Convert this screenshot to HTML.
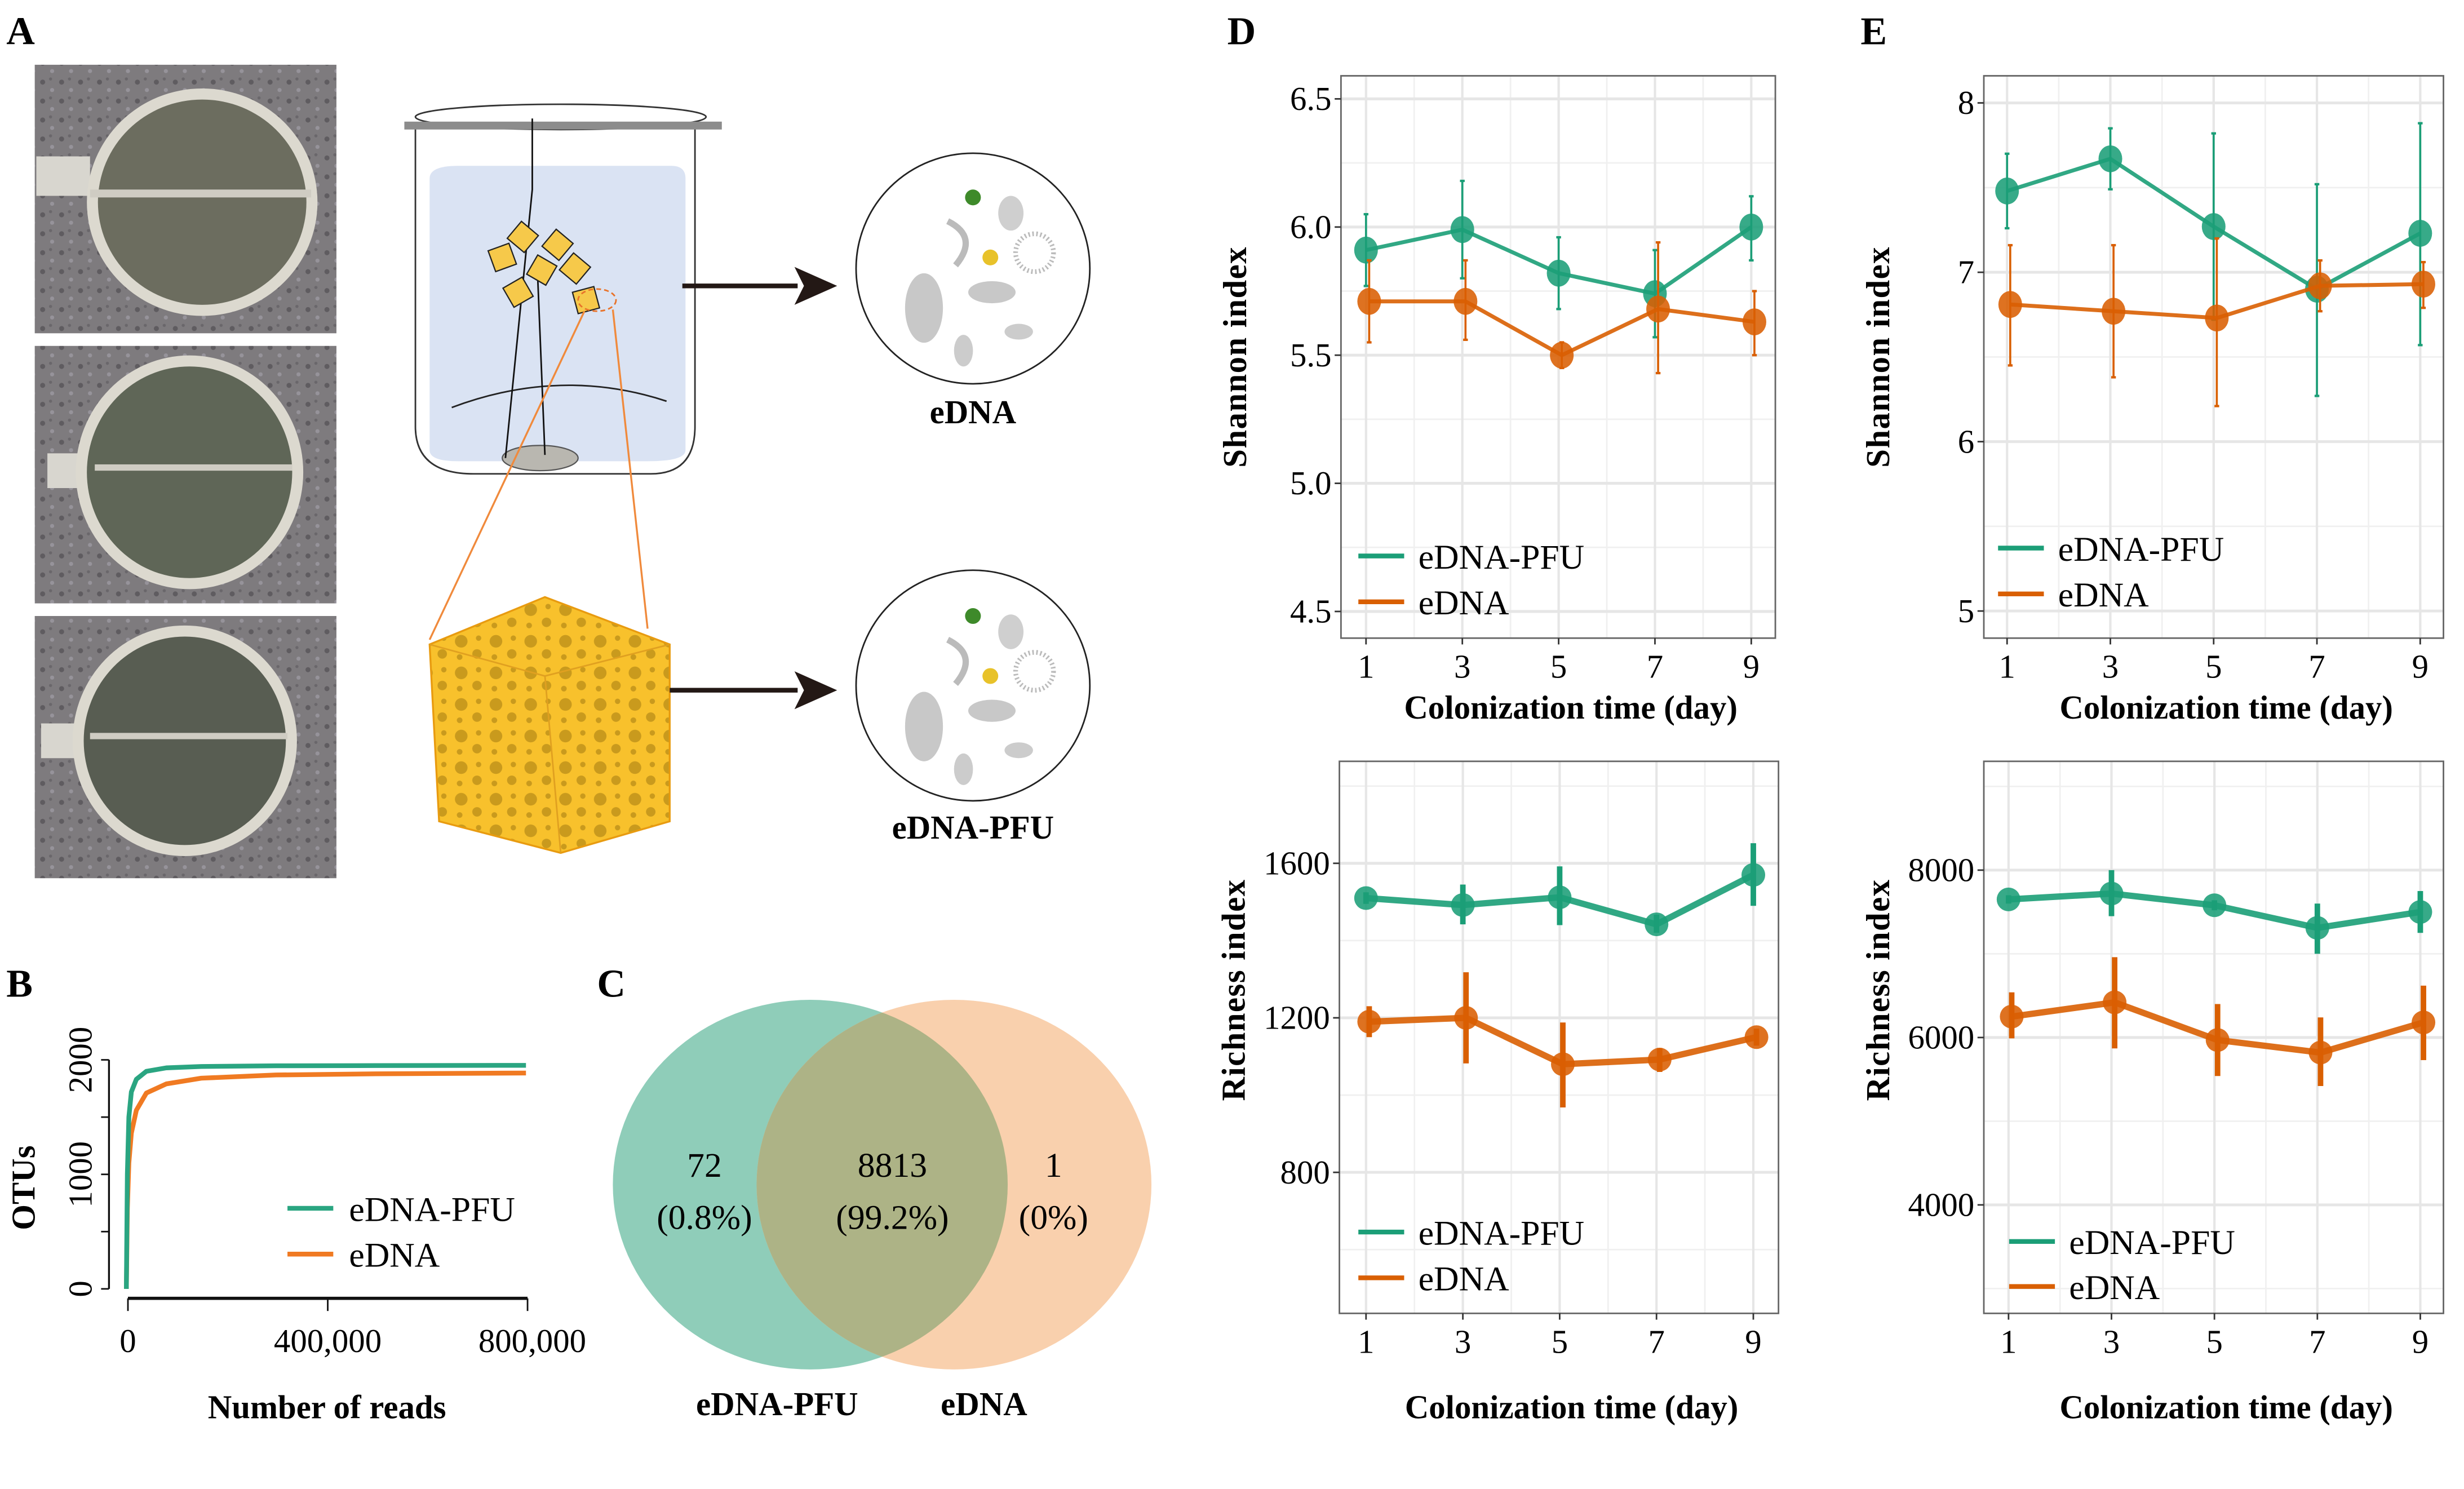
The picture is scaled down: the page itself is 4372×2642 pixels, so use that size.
<!DOCTYPE html>
<html><head><meta charset="utf-8">
<style>
html,body{margin:0;padding:0;background:#fff;}
svg{display:block;}
text{font-family:"Liberation Serif",serif;}
</style></head>
<body>
<svg id="fig" width="4372" height="2642" viewBox="0 0 1560 942.7" preserveAspectRatio="none" xmlns="http://www.w3.org/2000/svg">
<defs>
<clipPath id="clipPfu"><ellipse cx="513" cy="750" rx="125" ry="117"/></clipPath>
<pattern id="speck" width="12" height="12" patternUnits="userSpaceOnUse">
<rect width="12" height="12" fill="#7e7b7e"/><circle cx="3" cy="4" r="1.6" fill="#5f5c60"/><circle cx="9" cy="9" r="1.3" fill="#96939a"/><circle cx="8" cy="2" r="1" fill="#6a676b"/>
</pattern>
<pattern id="holes" width="22" height="20" patternUnits="userSpaceOnUse">
<rect width="22" height="20" fill="#f8c12c"/><circle cx="6" cy="6" r="4" fill="#c99a1d"/><circle cx="16" cy="14" r="3" fill="#c99a1d"/><circle cx="17" cy="4" r="1.7" fill="#c99a1d"/><circle cx="5" cy="16" r="1.8" fill="#c99a1d"/>
</pattern>
</defs>

<!-- Panel letters -->
<text x="4" y="28" font-size="25" font-weight="bold">A</text>
<text x="4" y="631" font-size="25" font-weight="bold">B</text>
<text x="378" y="631" font-size="25" font-weight="bold">C</text>
<text x="777" y="28" font-size="25" font-weight="bold">D</text>
<text x="1178" y="28" font-size="25" font-weight="bold">E</text>

<!-- Panel A -->
<g>
<g>
<rect x="22" y="41" width="191" height="170" fill="url(#speck)"/>
<rect x="23" y="99" width="34" height="25" fill="#d8d6cf"/>
<ellipse cx="128" cy="128" rx="73" ry="72" fill="#dcd9cf"/><ellipse cx="128" cy="128" rx="66" ry="65" fill="#6c6d5f"/>
<rect x="57" y="120" width="140" height="5" fill="#cfccc3"/>
</g>
<g>
<rect x="22" y="219" width="191" height="163" fill="url(#speck)"/>
<rect x="30" y="287" width="30" height="22" fill="#d8d6cf"/>
<ellipse cx="120" cy="299" rx="72" ry="74" fill="#dcd9cf"/><ellipse cx="120" cy="299" rx="65" ry="67" fill="#5f6657"/>
<rect x="60" y="294" width="125" height="4" fill="#cfccc3"/>
</g>
<g>
<rect x="22" y="390" width="191" height="166" fill="url(#speck)"/>
<rect x="26" y="458" width="32" height="22" fill="#d8d6cf"/>
<ellipse cx="117" cy="469" rx="71" ry="73" fill="#dcd9cf"/><ellipse cx="117" cy="469" rx="64" ry="66" fill="#585d52"/>
<rect x="57" y="464" width="125" height="4" fill="#cfccc3"/>
</g>
</g>
<g>
<path d="M263,80 L263,270 Q263,300 300,300 L412,300 Q440,300 440,270 L440,80" fill="#fff" stroke="#333" stroke-width="1"/>
<path d="M272,113 Q272,105 290,105 L425,105 Q434,105 434,113 L434,285 Q434,292 410,292 L290,292 Q272,292 272,285Z" fill="#dae3f3"/>
<ellipse cx="355" cy="74" rx="92" ry="8" fill="none" stroke="#333" stroke-width="1"/>
<rect x="256" y="77" width="201" height="5" fill="#8c8c8c"/>
<path d="M286,258 Q355,232 422,254" fill="none" stroke="#222" stroke-width="1"/>
<ellipse cx="342" cy="290" rx="24" ry="8" fill="#b9b7b0" stroke="#555" stroke-width=".8"/>
<path d="M337,75 L337,120 L320,290 M340,165 L345,288" fill="none" stroke="#111" stroke-width="1"/>
<g fill="#f6c94a" stroke="#222" stroke-width=".8">
<rect x="324" y="143" width="14" height="14" transform="rotate(40 331 150)"/><rect x="346" y="148" width="14" height="14" transform="rotate(40 353 155)"/>
<rect x="311" y="156" width="14" height="14" transform="rotate(-20 318 163)"/><rect x="336" y="164" width="14" height="14" transform="rotate(30 343 171)"/>
<rect x="357" y="163" width="14" height="14" transform="rotate(40 364 170)"/><rect x="321" y="178" width="14" height="14" transform="rotate(-30 328 185)"/>
<rect x="364" y="183" width="14" height="14" transform="rotate(-15 371 190)"/>
</g>
<ellipse cx="378" cy="190" rx="12" ry="7" fill="none" stroke="#e8732a" stroke-dasharray="3,2"/>
<path d="M370,197 L272,405 M388,196 L410,398" stroke="#f08a3c" stroke-width="1.2" fill="none"/>
</g>
<g>
<path d="M272,408 L345,378 L424,408 L424,520 L355,540 L278,520Z" fill="url(#holes)" stroke="#e89b10" stroke-width="1.2"/>
<path d="M272,408 L345,428 L424,408 M345,428 L355,540" stroke="#e0a020" fill="none" stroke-width="1"/>
</g>
<g><line x1="432" y1="181" x2="505" y2="181" stroke="#231815" stroke-width="3"/><path d="M503,169 L530,181 L503,193 L509,181Z" fill="#231815"/></g>
<g><line x1="424" y1="437" x2="505" y2="437" stroke="#231815" stroke-width="3"/><path d="M503,425 L530,437 L503,449 L509,437Z" fill="#231815"/></g>
<g>
<ellipse cx="616" cy="170" rx="74" ry="73" fill="#fff" stroke="#222" stroke-width="1"/>
<ellipse cx="585" cy="195" rx="12" ry="22" fill="#c8c8c8"/><ellipse cx="628" cy="185" rx="15" ry="7" fill="#c8c8c8"/>
<ellipse cx="640" cy="135" rx="8" ry="11" fill="#cfcfcf"/><circle cx="627" cy="163" r="5" fill="#e8c22a"/><circle cx="616" cy="125" r="5" fill="#3e8a2a"/>
<circle cx="655" cy="160" r="12" fill="none" stroke="#bbb" stroke-dasharray="1,1.5" stroke-width="3"/>
<path d="M600,140 Q620,150 605,168" stroke="#bbb" stroke-width="4" fill="none"/>
<ellipse cx="645" cy="210" rx="9" ry="5" fill="#ccc"/><ellipse cx="610" cy="222" rx="6" ry="10" fill="#ccc"/>
</g>
<g>
<ellipse cx="616" cy="434" rx="74" ry="73" fill="#fff" stroke="#222" stroke-width="1"/>
<ellipse cx="585" cy="460" rx="12" ry="22" fill="#c8c8c8"/><ellipse cx="628" cy="450" rx="15" ry="7" fill="#c8c8c8"/>
<ellipse cx="640" cy="400" rx="8" ry="11" fill="#cfcfcf"/><circle cx="627" cy="428" r="5" fill="#e8c22a"/><circle cx="616" cy="390" r="5" fill="#3e8a2a"/>
<circle cx="655" cy="425" r="12" fill="none" stroke="#bbb" stroke-dasharray="1,1.5" stroke-width="3"/>
<path d="M600,405 Q620,415 605,433" stroke="#bbb" stroke-width="4" fill="none"/>
<ellipse cx="645" cy="475" rx="9" ry="5" fill="#ccc"/><ellipse cx="610" cy="487" rx="6" ry="10" fill="#ccc"/>
</g>
<text x="616" y="268" font-size="21" font-weight="bold" text-anchor="middle">eDNA</text>
<text x="616" y="531" font-size="21" font-weight="bold" text-anchor="middle">eDNA-PFU</text>

<!-- Panel C Venn -->
<g>
<ellipse cx="513" cy="750" rx="125" ry="117" fill="#8fcdb9"/>
<ellipse cx="604" cy="750" rx="125" ry="117" fill="#f9d0ad"/>
<ellipse cx="604" cy="750" rx="125" ry="117" fill="#adb386" clip-path="url(#clipPfu)"/>
<g font-size="22" text-anchor="middle">
<text x="446" y="745">72</text><text x="446" y="778">(0.8%)</text>
<text x="565" y="745">8813</text><text x="565" y="778">(99.2%)</text>
<text x="667" y="745">1</text><text x="667" y="778">(0%)</text>
</g>
<text x="492" y="896" font-size="21" font-weight="bold" text-anchor="middle">eDNA-PFU</text>
<text x="623" y="896" font-size="21" font-weight="bold" text-anchor="middle">eDNA</text>
</g>

<g id="charts"></g>
</svg>
<script>
const NS='http://www.w3.org/2000/svg';
const TEAL='#1b9e77', ORANGE='#d95f02';
// ---- Panel B rarefaction data ----
const rareReads=[0,2000,5000,10000,20000,40000,80000,150000,300000,500000,800000];
const rarePfu=[0,1000,1500,1720,1830,1900,1930,1942,1948,1950,1952];
const rareEdna=[0,700,1100,1360,1560,1710,1790,1840,1868,1878,1885];
const rareXTicks=[0,400000,800000];
const rareXLabels=['0','400,000','800,000'];
const rareYTicks=[0,1000,2000];
// ---- Shannon D ----
const days=[1,3,5,7,9];
const shD_pfu=[5.91,5.99,5.82,5.74,6.00];
const shD_pfuLo=[5.77,5.80,5.68,5.57,5.87];
const shD_pfuHi=[6.05,6.18,5.96,5.91,6.12];
const shD_ed=[5.71,5.71,5.50,5.68,5.63];
const shD_edLo=[5.55,5.56,5.45,5.43,5.50];
const shD_edHi=[5.87,5.87,5.55,5.94,5.75];
const shD_ticks=[4.5,5.0,5.5,6.0,6.5];
const shD_labels=['4.5','5.0','5.5','6.0','6.5'];
// ---- Shannon E ----
const shE_pfu=[7.48,7.67,7.27,6.90,7.23];
const shE_pfuLo=[7.26,7.49,6.72,6.27,6.57];
const shE_pfuHi=[7.70,7.85,7.82,7.52,7.88];
const shE_ed=[6.81,6.77,6.73,6.92,6.93];
const shE_edLo=[6.45,6.38,6.21,6.77,6.79];
const shE_edHi=[7.16,7.16,7.20,7.07,7.06];
const shE_ticks=[5,6,7,8];
const shE_labels=['5','6','7','8'];
// ---- Richness D ----
const riD_pfu=[1510,1492,1512,1442,1570];
const riD_pfuLo=[1495,1442,1440,1420,1490];
const riD_pfuHi=[1525,1545,1592,1467,1652];
const riD_ed=[1190,1200,1080,1092,1150];
const riD_edLo=[1150,1082,968,1060,1128];
const riD_edHi=[1230,1318,1188,1122,1172];
const riD_ticks=[800,1200,1600];
const riD_labels=['800','1200','1600'];
// ---- Richness E ----
const riE_pfu=[7650,7720,7580,7310,7500];
const riE_pfuLo=[7600,7450,7520,7000,7250];
const riE_pfuHi=[7700,8000,7640,7600,7750];
const riE_ed=[6250,6420,5970,5820,6180];
const riE_edLo=[5990,5870,5540,5420,5730];
const riE_edHi=[6540,6960,6400,6240,6620];
const riE_ticks=[4000,6000,8000];
const riE_labels=['4000','6000','8000'];

const root=document.getElementById('charts');
function el(tag,attrs,parent){const e=document.createElementNS(NS,tag);for(const k in attrs)e.setAttribute(k,attrs[k]);(parent||root).appendChild(e);return e;}
function txt(s,attrs,parent){const e=el('text',attrs,parent);e.textContent=s;return e;}

function lineChart(cfg){
  const g=el('g',{});
  
  
  const X=v=>cfg.x0+(v-cfg.xmin)/(cfg.xmax-cfg.xmin)*(cfg.x1-cfg.x0);
  const Y=v=>cfg.y1-(v-cfg.ymin)/(cfg.ymax-cfg.ymin)*(cfg.y1-cfg.y0);
  for(const v of cfg.minor){el('line',{x1:cfg.x0,x2:cfg.x1,y1:Y(v),y2:Y(v),stroke:'#f0f0f0','stroke-width':1},g);}
  for(const d of [2,4,6,8]){el('line',{x1:X(d),x2:X(d),y1:cfg.y0,y2:cfg.y1,stroke:'#f0f0f0','stroke-width':1},g);}
  for(const v of cfg.ticks){el('line',{x1:cfg.x0,x2:cfg.x1,y1:Y(v),y2:Y(v),stroke:'#e6e6e6','stroke-width':1.8},g);}
  for(const d of days){el('line',{x1:X(d),x2:X(d),y1:cfg.y0,y2:cfg.y1,stroke:'#e6e6e6','stroke-width':1.5},g);}
  el('rect',{x:cfg.x0,y:cfg.y0,width:cfg.x1-cfg.x0,height:cfg.y1-cfg.y0,fill:'none',stroke:'#666','stroke-width':1},g);
  cfg.ticks.forEach((v,i)=>{
    el('line',{x1:cfg.x0-4,x2:cfg.x0,y1:Y(v),y2:Y(v),stroke:'#333','stroke-width':1},g);
    const t=txt(cfg.labels[i],{x:cfg.x0-6,y:Y(v)+7,'font-size':21,'text-anchor':'end'},g);
    
    
  });
  days.forEach(d=>{
    el('line',{x1:X(d),x2:X(d),y1:cfg.y1,y2:cfg.y1+4,stroke:'#333','stroke-width':1},g);
    const t=txt(String(d),{x:X(d),y:cfg.y1+25,'font-size':21,'text-anchor':'middle'},g);
    
    
  });
  const xt=txt('Colonization time  (day)',{x:(cfg.x0+cfg.x1)/2+8,y:cfg.titleY,'font-size':21,'font-weight':'bold','text-anchor':'middle'},g);
  
  
  const yc=(cfg.y0+cfg.y1)/2+cfg.yTitleOff;
  const yt=txt(cfg.ytitle,{x:0,y:0,'font-size':21,'font-weight':'bold','text-anchor':'middle',transform:`translate(${cfg.x0-60},${yc}) rotate(-90)`,'letter-spacing':'0.5'},g);
  
  
  const series=[[cfg.pfu,cfg.pfuLo,cfg.pfuHi,TEAL,0,'series-edna-pfu'],[cfg.ed,cfg.edLo,cfg.edHi,ORANGE,cfg.dodge,'series-edna']];
  for(const [vals,lo,hi,col,dx,nm] of series){
    const sg=el('g',{},g);
    
    
    const pts=vals.map((v,i)=>`${X(days[i])+dx},${Y(v)}`).join(' ');
    el('polyline',{points:pts,fill:'none',stroke:col,'stroke-width':cfg.lw,'stroke-opacity':0.9},sg);
    vals.forEach((v,i)=>{
      const x=X(days[i])+dx;
      const eb=el('line',{x1:x,x2:x,y1:Y(lo[i]),y2:Y(hi[i]),stroke:col,'stroke-width':cfg.ebw},sg);
      
      
      if(cfg.caps){el('line',{x1:x-1.5,x2:x+1.5,y1:Y(lo[i]),y2:Y(lo[i]),stroke:col,'stroke-width':1.5},sg);el('line',{x1:x-1.5,x2:x+1.5,y1:Y(hi[i]),y2:Y(hi[i]),stroke:col,'stroke-width':1.5},sg);}
      const p=el('ellipse',{cx:x,cy:Y(v),rx:cfg.rx,ry:cfg.ry,fill:col,'fill-opacity':0.88},sg);
      
      
    });
  }
  const lg=el('g',{},g);
  
  
  const L=cfg.legend;
  el('line',{x1:L.x,x2:L.x+29,y1:L.y1,y2:L.y1,stroke:TEAL,'stroke-width':3},lg);
  el('line',{x1:L.x,x2:L.x+29,y1:L.y2,y2:L.y2,stroke:ORANGE,'stroke-width':3},lg);
  const l1=txt('eDNA-PFU',{x:L.x+38,y:L.y1+8,'font-size':22},lg);
  
  
  const l2=txt('eDNA',{x:L.x+38,y:L.y2+8,'font-size':22},lg);
  
  
}

lineChart({name:'shannon-chart-d',x0:849,x1:1124,y0:48,y1:404,xmin:0.48,xmax:9.5,ymin:4.396,ymax:6.59,
 ticks:shD_ticks,labels:shD_labels,minor:[4.75,5.25,5.75,6.25],pfu:shD_pfu,pfuLo:shD_pfuLo,pfuHi:shD_pfuHi,
 ed:shD_ed,edLo:shD_edLo,edHi:shD_edHi,ytitle:'Shannon index',titleY:455,yTitleOff:0,lw:2.5,ebw:1.3,caps:true,rx:7.5,ry:8.5,dodge:2,
 legend:{x:860,y1:352,y2:381}});
lineChart({name:'shannon-chart-e',x0:1256,x1:1547,y0:48,y1:404,xmin:0.55,xmax:9.45,ymin:4.84,ymax:8.16,
 ticks:shE_ticks,labels:shE_labels,minor:[5.5,6.5,7.5],pfu:shE_pfu,pfuLo:shE_pfuLo,pfuHi:shE_pfuHi,
 ed:shE_ed,edLo:shE_edLo,edHi:shE_edHi,ytitle:'Shannon index',titleY:455,yTitleOff:0,lw:2.5,ebw:1.3,caps:true,rx:7.5,ry:8.5,dodge:2,
 legend:{x:1265,y1:347,y2:376}});
lineChart({name:'richness-chart-d',x0:848,x1:1126,y0:482,y1:831.5,xmin:0.45,xmax:9.52,ymin:435,ymax:1864,
 ticks:riD_ticks,labels:riD_labels,minor:[600,1000,1400,1800],pfu:riD_pfu,pfuLo:riD_pfuLo,pfuHi:riD_pfuHi,
 ed:riD_ed,edLo:riD_edLo,edHi:riD_edHi,ytitle:'Richness index',titleY:898,yTitleOff:-30,lw:4,ebw:3.5,caps:false,rx:7.5,ry:7.5,dodge:2,
 legend:{x:860,y1:780,y2:809}});
lineChart({name:'richness-chart-e',x0:1256,x1:1547,y0:482,y1:831.5,xmin:0.52,xmax:9.45,ymin:2704,ymax:9300,
 ticks:riE_ticks,labels:riE_labels,minor:[3000,5000,7000,9000],pfu:riE_pfu,pfuLo:riE_pfuLo,pfuHi:riE_pfuHi,
 ed:riE_ed,edLo:riE_edLo,edHi:riE_edHi,ytitle:'Richness index',titleY:898,yTitleOff:-30,lw:4,ebw:3.5,caps:false,rx:7.5,ry:7.5,dodge:2,
 legend:{x:1272,y1:786,y2:814.5}});

// ---- Panel B ----
(function(){
  const g=el('g',{});
  
  
  const X=v=>81+v/800000*(334-81);
  const Y=v=>816-v/2000*(816-671);
  el('line',{x1:69,x2:69,y1:Y(0),y2:Y(2000),stroke:'#111','stroke-width':1.2},g);
  for(const v of [0,500,1000,1500,2000]) el('line',{x1:64,x2:69,y1:Y(v),y2:Y(v),stroke:'#111','stroke-width':1},g);
  rareYTicks.forEach(v=>{const t=txt(String(v),{x:0,y:0,'font-size':21,'text-anchor':'middle',transform:`translate(${58},${Y(v)}) rotate(-90)`},g);
    
    });
  const yt=txt('OTUs',{x:0,y:0,'font-size':21,'font-weight':'bold','text-anchor':'middle',transform:'translate(22,752) rotate(-90)'},g);
  
  
  el('line',{x1:X(0),x2:X(800000),y1:822,y2:822,stroke:'#111','stroke-width':2},g);
  rareXTicks.forEach((v,i)=>{el('line',{x1:X(v),x2:X(v),y1:822,y2:830,stroke:'#111','stroke-width':1},g);
    const t=txt(rareXLabels[i],{x:X(v)+(i==2?3:0),y:856,'font-size':21,'text-anchor':'middle'},g);
    
    });
  const xt=txt('Number of reads',{x:207,y:898,'font-size':21,'font-weight':'bold','text-anchor':'middle'},g);
  
  
  const mk=(arr,col,nm)=>{const p=el('polyline',{points:arr.map((v,i)=>`${X(rareReads[i])-1},${Y(v)}`).join(' '),fill:'none',stroke:col,'stroke-width':3,'stroke-linejoin':'round'},g);
    
    };
  mk(rareEdna,'#f07a22','rarefaction-edna');
  mk(rarePfu,'#2aa581','rarefaction-edna-pfu');
  el('line',{x1:182,x2:211,y1:765,y2:765,stroke:'#2aa581','stroke-width':3},g);
  el('line',{x1:182,x2:211,y1:794,y2:794,stroke:'#f07a22','stroke-width':3},g);
  const a=txt('eDNA-PFU',{x:221,y:773,'font-size':22},g);
  
  
  const b=txt('eDNA',{x:221,y:802,'font-size':22},g);
  
  
})();
</script>
</body></html>
